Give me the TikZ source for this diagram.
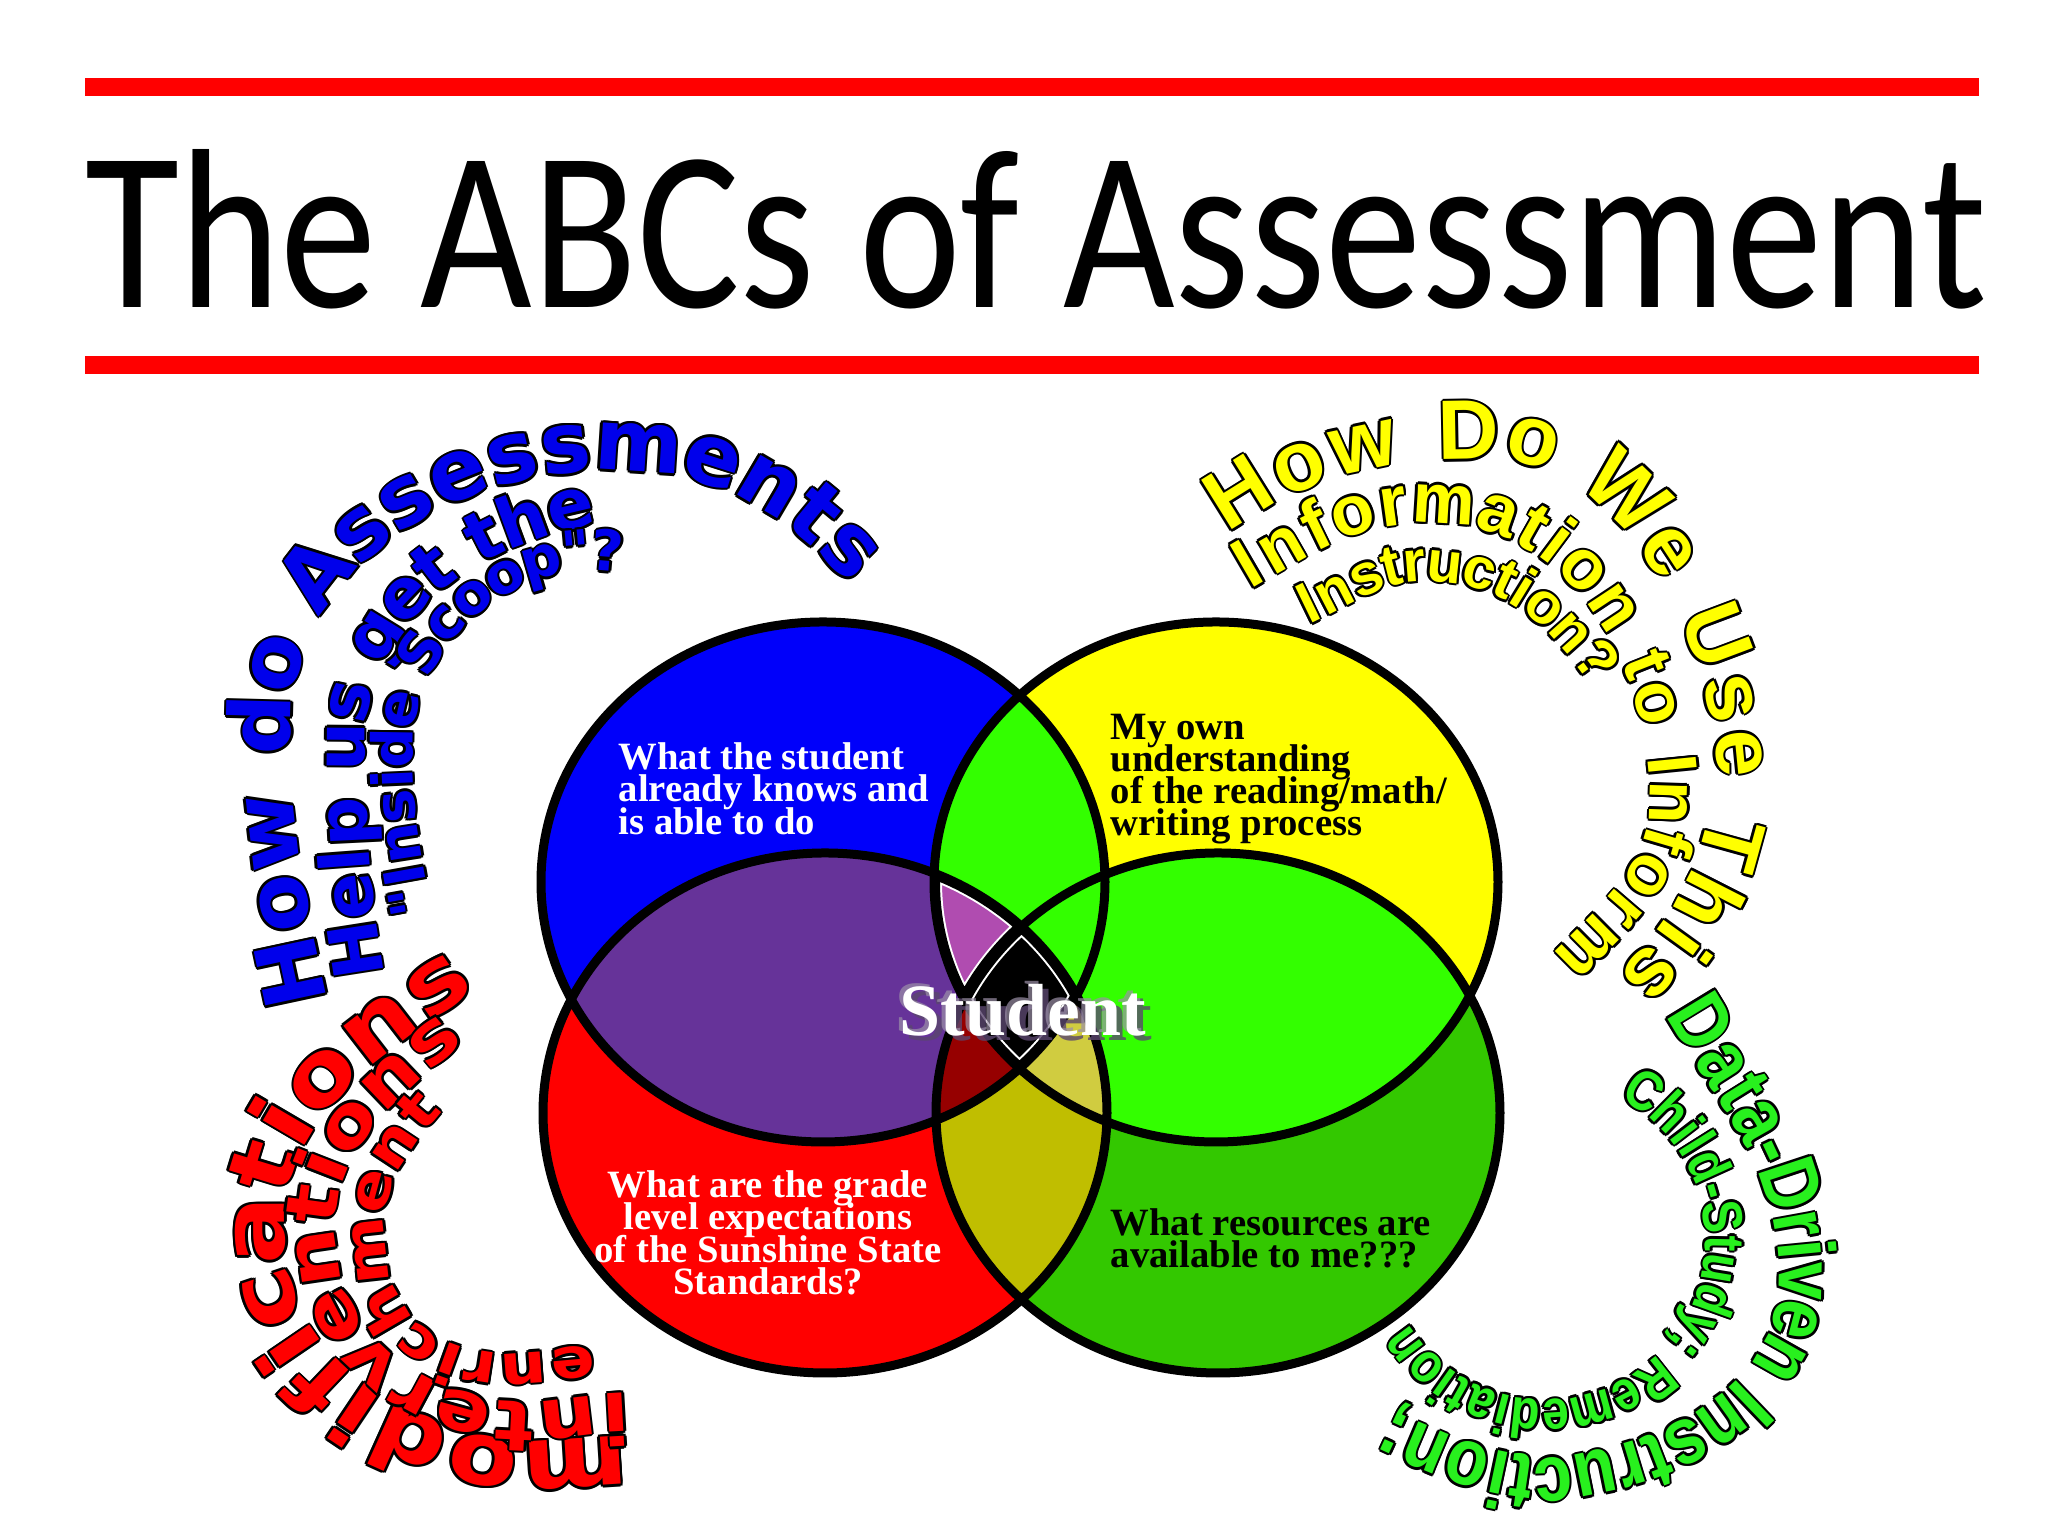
\documentclass[tikz,border=0pt]{standalone}
\usepackage{fontspec}
\setmainfont{Liberation Serif}
\newfontfamily\titlefont{Carlito}
\newfontfamily\heavyfont{DejaVu Sans}
\newfontfamily\widefont[FakeStretch=1.15]{DejaVu Sans}
\newfontfamily\armfont{Liberation Sans}
\newfontfamily\thinarmfont[FakeStretch=0.85]{Liberation Sans}
\usetikzlibrary{decorations.text}

\definecolor{vennblue}{RGB}{0,0,250}
\definecolor{vennyellow}{RGB}{255,255,0}
\definecolor{vennred}{RGB}{255,0,0}
\definecolor{venngreen}{RGB}{51,200,0}
\definecolor{vennlime}{RGB}{51,255,0}
\definecolor{vennpurple}{RGB}{102,51,153}
\definecolor{vennorchid}{RGB}{176,76,176}
\definecolor{vennolive}{RGB}{192,190,0}
\definecolor{venndark}{RGB}{150,0,0}
\definecolor{vennkhaki}{RGB}{208,204,64}
\definecolor{barred}{RGB}{255,0,0}
\definecolor{glow}{RGB}{90,70,110}
\definecolor{wordblue}{RGB}{0,0,235}
\definecolor{wordyellow}{RGB}{255,255,0}
\definecolor{wordred}{RGB}{255,0,0}
\definecolor{wordgreen}{RGB}{40,240,30}

% the four circles of the venn
\newcommand\cblue{(8.23,6.54) ellipse [x radius=2.82, y radius=2.60]}
\newcommand\cyellow{(12.16,6.54) ellipse [x radius=2.82, y radius=2.60]}
\newcommand\cred{(8.25,4.23) ellipse [x radius=2.82, y radius=2.60]}
\newcommand\cgreen{(12.18,4.23) ellipse [x radius=2.82, y radius=2.60]}

\protected\def\blueft#1{\heavyfont\bfseries\fontsize{#1}{#1}\selectfont}
\protected\def\redft#1{\widefont\bfseries\fontsize{#1}{#1}\selectfont}
\protected\def\yellowft#1{\armfont\bfseries\fontsize{#1}{#1}\selectfont}
\protected\def\greenft#1{\thinarmfont\bfseries\fontsize{#1}{#1}\selectfont}
\protected\def\blurbft{\bfseries\fontsize{11}{9.2}\selectfont\lineskiplimit-20pt\relax}

% outlined text along a path: colour, font, raise, text, path
\newcommand\bendtext[5]{%
  \foreach \ox/\oy in {1/0,-1/0,0/1,0/-1,0.7/0.7,-0.7/0.7,0.7/-0.7,-0.7/-0.7}{
    \begin{scope}[transform canvas={shift={(\ox*0.25mm,\oy*0.25mm)}}]
      \path[decorate, decoration={text along path,
        text align=fit to path, raise=#3, text={|#2\color{black}|#4}}] #5;
    \end{scope}
  }
  \path[decorate, decoration={text along path, text align=fit to path, raise=#3,
    text={|#2\color{#1}|#4}}] #5;
}

\begin{document}
\begin{tikzpicture}[
    ring/.style={draw=black, line width=0.9mm},
    blurb/.style={font=\blurbft, inner sep=0pt, align=left, anchor=north west}
]
\fill[white] (0,0) rectangle (20.48,15.36);
\useasboundingbox (0,0) rectangle (20.48,15.36);

% title
\fill[barred] (0.85,14.40) rectangle (19.79,14.58);
\fill[barred] (0.85,11.62) rectangle (19.79,11.80);
\node[anchor=base west, inner sep=0pt] (title) at (0.85,12.28)
  {\resizebox{19cm}{1.58cm}{\titlefont The ABCs of Assessment}};

% venn regions
\fill[vennblue] \cblue;
\fill[vennyellow] \cyellow;
\fill[vennred] \cred;
\fill[venngreen] \cgreen;
\begin{scope}
  \clip \cblue;
  \fill[vennlime] \cyellow;
  \fill[vennpurple] \cred;
\end{scope}
\begin{scope}
  \clip \cyellow;
  \fill[vennlime] \cgreen;
\end{scope}
\begin{scope}
  \clip \cred;
  \fill[vennolive] \cgreen;
\end{scope}
\begin{scope}
  \clip \cblue; \clip \cyellow;
  \fill[vennorchid] \cred;
\end{scope}
\begin{scope}
  \clip \cblue; \clip \cred;
  \fill[venndark] \cgreen;
\end{scope}
\begin{scope}
  \clip \cyellow; \clip \cred;
  \fill[vennkhaki] \cgreen;
\end{scope}
\begin{scope}
  \clip \cblue; \clip \cyellow; \clip \cred;
  \fill[black] \cgreen;
  \draw[white, line width=1.6mm] \cblue \cyellow \cred \cgreen;
  \draw[black, line width=1.2mm] \cblue \cyellow \cred \cgreen;
\end{scope}
\draw[ring] \cblue \cyellow \cred \cgreen;

% texts in the circles
\node[blurb, text=white] (knows) at (6.18,7.94) {What the student\\already knows and\\is able to do};
\node[blurb] (own) at (11.10,8.23) {My own\\understanding\\of the reading/math/\\writing process};
\node[blurb, text=white, align=center, anchor=north] (grade) at (7.68,3.66)
  {What are the grade\\level expectations\\of the Sunshine State\\Standards?};
\node[blurb] (avail) at (11.10,3.28) {What resources are\\available to me???};

\node[font=\bfseries\fontsize{21}{21}\selectfont, text=glow, opacity=0.8] (glowa) at (10.29,5.21) {Student};
\node[font=\bfseries\fontsize{21}{21}\selectfont, text=glow!60!white, opacity=0.7] (glowb) at (10.19,5.29) {Student};
\node[font=\bfseries\fontsize{21}{21}\selectfont, text=white] (student) at (10.23,5.26) {Student};

% blue question
\bendtext{wordblue}{\blueft{24}}{-8.7pt}{How do Assessments}
  {(2.98,5.29) to[out=102,in=-90] (2.60,8.04) to[out=90,in=180] (6.12,10.96) to[out=0,in=133] (8.72,9.72)}
\bendtext{wordblue}{\blueft{19.5}}{-7pt}{Help us get the}
  {(3.60,5.58) to[out=100,in=-88] (3.40,7.79) to[out=92,in=190] (5.92,10.36)}
\bendtext{wordblue}{\blueft{16}}{-5.8pt}{"Inside Scoop"?}
  {(4.12,6.20) to[out=100,in=-90] (3.92,7.85) to[out=90,in=170] (6.24,9.83)}

% yellow question
\bendtext{wordyellow}{\yellowft{24}}{-8.6pt}{How Do We Use This}
  {(12.12,10.28) to[out=35,in=180] (14.89,11.07) to[out=0,in=95,looseness=0.9] (17.47,7.79) to[out=-95,in=45] (16.40,5.41)}
\bendtext{wordyellow}{\yellowft{20}}{-7.1pt}{Information to Inform}
  {(12.38,9.68) to[out=30,in=180] (14.30,10.38) to[out=0,in=92] (16.75,7.46) to[out=-88,in=45] (15.70,5.64)}
\bendtext{wordyellow}{\yellowft{16.5}}{-5.9pt}{Instruction?}
  {(13.00,9.30) to[out=25,in=175] (14.40,9.75) to[out=-5,in=125] (16.08,8.62)}

% red answer
\bendtext{wordred}{\redft{25}}{-7.3pt}{modifications}
  {(6.28,0.74) to[out=181,in=-20] (4.42,0.85) to[out=160,in=-88] (2.59,2.97) to[out=92,in=215] (4.62,5.68)}
\bendtext{wordred}{\redft{20}}{-6pt}{interventions}
  {(6.30,1.22) to[out=181,in=-10] (4.87,1.17) to[out=170,in=-85] (3.15,2.90) to[out=95,in=220] (4.52,5.11)}
\bendtext{wordred}{\redft{16}}{-4.8pt}{enrichment}
  {(5.95,1.73) to[out=182,in=-15] (4.60,1.72) to[out=165,in=-90] (3.68,3.05) to[out=90,in=230] (4.30,4.36)}

% green answer
\bendtext{wordgreen}{\greenft{23}}{-8.2pt}{Data-Driven Instruction;}
  {(16.90,5.36) to[out=-60,in=92] (18.08,2.65) to[out=-88,in=5] (15.50,0.49) to[out=175,in=-25] (13.80,1.00)}
\bendtext{wordgreen}{\greenft{16}}{-5.7pt}{Child-Study; Remediation}
  {(16.30,4.55) arc[start angle=62, end angle=-148, radius=1.8]}
\end{tikzpicture}
\end{document}
